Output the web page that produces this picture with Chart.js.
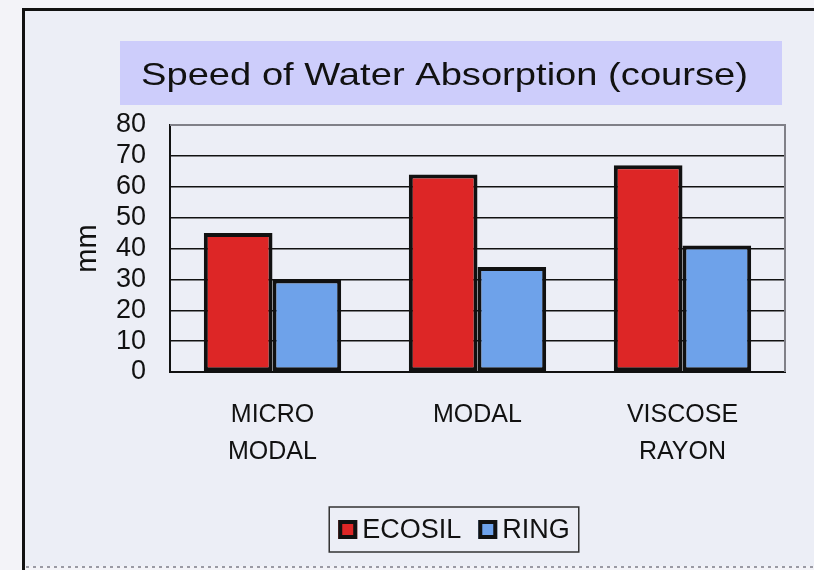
<!DOCTYPE html>
<html>
<head>
<meta charset="utf-8">
<script src="https://cdn.jsdelivr.net/npm/chart.js@4.4.0/dist/chart.umd.min.js"></script>
<style>
  html, body { margin: 0; padding: 0; background: #f3f3f8; }
  #wrap { width: 814px; height: 570px; }
</style>
</head>
<body>
<div id="wrap"><canvas id="absorbChart" width="814" height="570"></canvas></div>
<script>
// data
var categories = [["MICRO", "MODAL"], "MODAL", ["VISCOSE", "RAYON"]];
var ecosilValues = [45, 64, 67];
var ringValues = [30, 34, 41];
var seriesNames = ["ECOSIL", "RING"];
var yMin = 0, yMax = 80, yStep = 10;
var chartTitle = "Speed of Water Absorption (course)";
var yTitle = "mm";

var red = "#dd2626";
var blue = "#6ea2ea";

// page frame + title box behind everything
var backdrop = {
    id: "backdrop",
    beforeDraw: function (chart) {
        var ctx = chart.ctx;
        ctx.save();
        ctx.fillStyle = "#f3f3f8";
        ctx.fillRect(0, 0, 814, 570);
        ctx.fillStyle = "#eceef6";
        ctx.fillRect(24, 10, 790, 556);
        ctx.strokeStyle = "#111";
        ctx.lineWidth = 3;
        ctx.beginPath();
        ctx.moveTo(23.5, 570);
        ctx.lineTo(23.5, 9.5);
        ctx.lineTo(814, 9.5);
        ctx.stroke();
        // faint dotted edge at the bottom of the scan
        ctx.strokeStyle = "#9a9aa4";
        ctx.lineWidth = 2;
        ctx.setLineDash([3, 4]);
        ctx.beginPath();
        ctx.moveTo(26, 567);
        ctx.lineTo(814, 567);
        ctx.stroke();
        ctx.setLineDash([]);

        // title box
        ctx.fillStyle = "#cdcdfb";
        ctx.fillRect(120, 41, 662, 64);
        ctx.fillStyle = "#111";
        ctx.font = "32px 'Liberation Sans', Arial, sans-serif";
        ctx.textBaseline = "alphabetic";
        ctx.textAlign = "left";
        var w = ctx.measureText(chartTitle).width;
        var sx = 607 / w;
        ctx.translate(141, 85);
        ctx.scale(sx, 1);
        ctx.fillText(chartTitle, 0, 0);
        ctx.restore();
    },
    afterDatasetsDraw: function (chart) {
        var ctx = chart.ctx;
        var a = chart.chartArea;
        ctx.save();
        ctx.strokeStyle = "#808088";
        ctx.lineWidth = 2;
        ctx.beginPath();
        ctx.moveTo(a.left, a.top);
        ctx.lineTo(a.right, a.top);
        ctx.lineTo(a.right, a.bottom);
        ctx.stroke();
        ctx.restore();
    },
    afterDraw: function (chart) {
        // boxed legend under the axis labels
        var ctx = chart.ctx;
        ctx.save();
        ctx.font = "27px 'Liberation Sans', Arial, sans-serif";
        var box = 19, gap = 5, itemGap = 17, pad = 9;
        var items = chart.data.datasets.map(function (ds) {
            return { text: ds.label, color: ds.backgroundColor, w: ctx.measureText(ds.label).width };
        });
        var total = pad * 2;
        items.forEach(function (it, i) {
            total += box + gap + it.w + (i > 0 ? itemGap : 0);
        });
        var cx = 454, top = 507, h = 45;
        var x = cx - total / 2;
        ctx.strokeStyle = "#333";
        ctx.lineWidth = 1.5;
        ctx.strokeRect(x, top, total, h);
        x += pad;
        var midY = top + h / 2;
        items.forEach(function (it, i) {
            if (i > 0) x += itemGap;
            ctx.fillStyle = it.color;
            ctx.fillRect(x, midY - box / 2, box, box);
            ctx.strokeStyle = "#111";
            ctx.lineWidth = 4;
            ctx.strokeRect(x + 2, midY - box / 2 + 2, box - 4, box - 4);
            x += box + gap;
            ctx.fillStyle = "#111";
            ctx.textBaseline = "middle";
            ctx.fillText(it.text, x, midY + 1);
            x += it.w;
        });
        ctx.restore();
    }
};

var ctxA = document.getElementById("absorbChart").getContext("2d");
var absorbChart = new Chart(ctxA, {
    type: "bar",
    data: {
        labels: categories,
        datasets: [{
            label: seriesNames[0],
            data: ecosilValues,
            backgroundColor: red,
            borderColor: "#111",
            borderWidth: 4,
            borderSkipped: false
        }, {
            label: seriesNames[1],
            data: ringValues,
            backgroundColor: blue,
            borderColor: "#111",
            borderWidth: 4,
            borderSkipped: false
        }]
    },
    options: {
        responsive: false,
        animation: false,
        barPercentage: 1,
        categoryPercentage: 0.67,
        layout: { padding: { left: 62, right: 29, top: 125, bottom: 78 } },
        plugins: {
            legend: { display: false },
            title: { display: false },
            tooltip: { enabled: false }
        },
        scales: {
            x: {
                grid: { display: false, drawTicks: false },
                border: { color: "#111", width: 2 },
                ticks: {
                    color: "#111",
                    padding: 25,
                    font: { family: "'Liberation Sans', Arial, sans-serif", size: 25, lineHeight: 1.48 }
                },
                afterFit: function (scale) { scale.height = 120; }
            },
            y: {
                min: yMin,
                max: yMax,
                grid: {
                    drawTicks: false,
                    lineWidth: 1.5,
                    color: function (c) { return c.tick && c.tick.value === yMax ? "#808088" : "#111"; }
                },
                border: { color: "#111", width: 2 },
                ticks: {
                    stepSize: yStep,
                    autoSkip: false,
                    color: "#111",
                    padding: 24,
                    font: { family: "'Liberation Sans', Arial, sans-serif", size: 27, lineHeight: 1 }
                },
                title: {
                    display: true,
                    text: yTitle,
                    color: "#111",
                    padding: { top: 11, bottom: 0 },
                    font: { family: "'Liberation Sans', Arial, sans-serif", size: 29, lineHeight: 1 }
                },
                afterFit: function (scale) { scale.width = 108; }
            }
        }
    },
    plugins: [backdrop]
});
</script>
</body>
</html>
